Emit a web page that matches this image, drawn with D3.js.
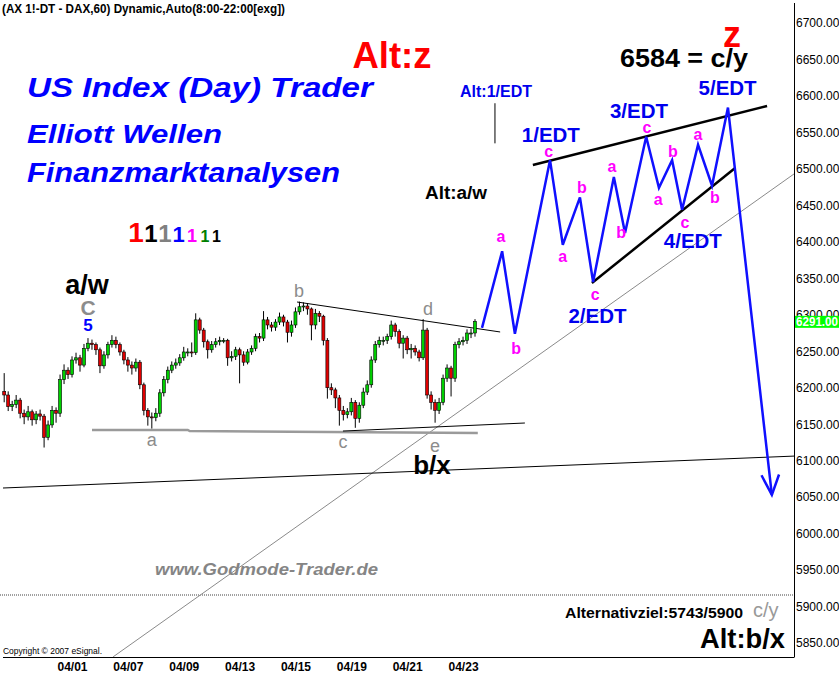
<!DOCTYPE html>
<html><head><meta charset="utf-8">
<script src="https://cdn.jsdelivr.net/npm/d3@7/dist/d3.min.js"></script>
<style>body{margin:0;background:#fff}svg{display:block}text{font-family:"Liberation Sans",Arial,sans-serif}</style>
</head><body><svg id="c" width="839" height="673"></svg>
<script>
// ---------- DATA ----------
const dateLabels = ["04/01","04/07","04/09","04/13","04/15","04/19","04/21","04/23"];
const dateTickIdx = [17,31,45,59,73,87,101,115];
const priceTicks = [5850,5900,5950,6000,6050,6100,6150,6200,6250,6300,6350,6400,6450,6500,6550,6600,6650,6700];
const lastPrice = 6291;
const firstOpen = 6195;
const closes = [6190,6174,6177,6183,6165,6160,6167,6156,6164,6161,
6132,6149,6169,6165,6211,6224,6218,6238,6241,6231,
6254,6261,6259,6252,6230,6245,6259,6265,6259,6249,
6238,6231,6227,6235,6204,6169,6160,6159,6165,6193,
6211,6224,6231,6234,6241,6249,6249,6248,6293,6279,
6263,6252,6259,6263,6265,6265,6241,6243,6252,6245,
6235,6249,6254,6270,6268,6293,6286,6283,6290,6297,
6290,6276,6286,6304,6311,6312,6308,6286,6302,6298,
6265,6200,6197,6186,6169,6163,6167,6180,6158,6176,
6194,6204,6238,6259,6265,6265,6270,6286,6277,6261,
6268,6252,6254,6249,6241,6279,6190,6180,6169,6180,
6213,6227,6213,6259,6263,6265,6275,6275,6291];
const highs = [6220,6195,6182,6190,6186,6170,6175,6170,6168,6170,
6164,6155,6175,6173,6218,6232,6228,6243,6248,6245,
6260,6268,6266,6262,6255,6250,6263,6272,6270,6262,
6252,6242,6236,6240,6238,6207,6172,6166,6172,6198,
6216,6229,6236,6240,6246,6256,6254,6262,6302,6296,
6282,6266,6264,6268,6270,6268,6267,6250,6256,6255,
6250,6253,6258,6274,6275,6305,6297,6290,6294,6303,
6300,6293,6292,6310,6318,6317,6316,6310,6308,6305,
6300,6268,6206,6200,6190,6175,6172,6186,6183,6180,
6200,6210,6243,6264,6270,6270,6274,6292,6289,6280,
6272,6271,6260,6258,6252,6294,6282,6195,6184,6186,
6218,6232,6230,6263,6268,6270,6280,6281,6294];
const lows = [6180,6168,6168,6172,6158,6150,6155,6148,6150,6155,
6118,6128,6145,6152,6160,6205,6212,6214,6233,6222,
6228,6250,6252,6245,6220,6226,6240,6255,6254,6244,
6232,6222,6218,6222,6198,6162,6148,6144,6154,6160,
6188,6206,6220,6226,6230,6237,6243,6242,6245,6274,
6255,6240,6248,6255,6258,6261,6230,6236,6238,6206,
6230,6232,6245,6250,6262,6264,6280,6277,6278,6286,
6284,6262,6270,6282,6300,6305,6300,6265,6280,6290,
6258,6185,6190,6172,6148,6155,6158,6162,6145,6152,
6172,6190,6200,6234,6255,6258,6260,6266,6270,6254,
6240,6246,6240,6244,6236,6238,6185,6170,6152,6164,
6176,6208,6188,6208,6254,6258,6260,6268,6270];
// projected Elliott path (bar index, price)
const wavePath = [[119.75,6282],[124.8,6387],[128.0,6274],[136.8,6512],[140.0,6396],[144.3,6461],[147.6,6345],[152.8,6489],[155.6,6412],[160.9,6544],[164.1,6474],[167.4,6512],[169.9,6444],[173.9,6533],[177.4,6477],[181.4,6584],[192.4,6053]];
const arrowBarbs = [[189.8,6080],[194.2,6081]];
// trend lines (bar index, price)
const grayDiag = [[27.3,5831],[198.2,6494]];
const longLine = [[-0.3,6062.5],[198.2,6106.3]];
const supportGray = [[22,6142],[46,6142],[46.5,6140.5],[118.7,6138]];
const triUpper = [[73.4,6317.5],[124.3,6276.4]];
const triLower = [[84.9,6140.6],[130.5,6151.6]];
const edtUpper = [[132.5,6505.3],[191.2,6586.2]];
const edtLower = [[147.3,6343.5],[183.2,6501.2]];
const altTick = [[123,6590],[123,6535]];
// labels (bar index, price at text baseline)
const magentaLabels = [["a",124.5,6400],["b",128.3,6246],["c",136.5,6516],["a",140,6372],["b",144.8,6467],["c",148.1,6320],["a",152.3,6496],["b",154.6,6405],["c",161.1,6549],["a",163.9,6450],["b",167.6,6516],["c",170.6,6419],["a",173.9,6540],["b",178.1,6453]];
const edtLabels = [["1/EDT",137.0,6537],["3/EDT",159.1,6570],["5/EDT",181.3,6601],["2/EDT",148.7,6289],["4/EDT",172.6,6391]];
const grayLetters = [["a",37,6120],["b",73.9,6324],["c",84.9,6117],["d",106.2,6300],["e",108,6112]];
const legendOnes = [["1","#ff0000",28],["1","#000000",24],["1","#808080",24],["1","#0000ff",22],["1","#ff00ff",18],["1","#008000",16],["1","#000000",16]];
const legendX = [136,151,165,178.5,192,205,216.5];

// ---------- CHART ----------
const svg = d3.select("#c");
const x = d3.scaleLinear().domain([0,198]).range([4.2,794.2]);
const y = d3.scaleLinear().domain([5850,6700]).range([643,23]);
const AX = 794.5, BOT = 657;

svg.append("defs").append("clipPath").attr("id","pc").append("rect").attr("x",0).attr("y",0).attr("width",AX).attr("height",BOT);
const plot = svg.append("g").attr("clip-path","url(#pc)");
const ln = d3.line().x(d=>x(d[0])).y(d=>y(d[1]));

// lower separator
svg.append("line").attr("x1",0).attr("x2",AX).attr("y1",595).attr("y2",595).attr("stroke","#a0a0a0").attr("stroke-width",2).attr("stroke-dasharray","1,1");

plot.append("path").attr("d",ln(grayDiag)).attr("stroke","#8a8a8a").attr("stroke-width",1).attr("fill","none");
plot.append("path").attr("d",ln(longLine)).attr("stroke","#000").attr("stroke-width",1).attr("fill","none");
plot.append("path").attr("d",ln(supportGray)).attr("stroke","#9a9a9a").attr("stroke-width",2.5).attr("fill","none");
plot.append("path").attr("d",ln(triUpper)).attr("stroke","#000").attr("stroke-width",1).attr("fill","none");
plot.append("path").attr("d",ln(triLower)).attr("stroke","#000").attr("stroke-width",1).attr("fill","none");

// candles
const candles = closes.map((c,i)=>({i, o: i===0?firstOpen:closes[i-1], c, h: highs[i], l: lows[i]}));
const cg = plot.append("g");
cg.selectAll("line.w").data(candles).join("line").attr("class","w")
  .attr("x1",d=>x(d.i)).attr("x2",d=>x(d.i)).attr("y1",d=>y(d.h)).attr("y2",d=>y(d.l))
  .attr("stroke","#000").attr("stroke-width",1);
cg.selectAll("rect").data(candles).join("rect")
  .attr("x",d=>x(d.i)-1.5).attr("width",3)
  .attr("y",d=>y(Math.max(d.o,d.c))).attr("height",d=>Math.max(1,Math.abs(y(d.o)-y(d.c))))
  .attr("fill",d=>d.c>=d.o?"#00d000":"#e00000").attr("stroke","#000").attr("stroke-width",0.6);

// EDT lines and wave
plot.append("path").attr("d",ln(edtUpper)).attr("stroke","#000").attr("stroke-width",2.5).attr("fill","none");
plot.append("path").attr("d",ln(edtLower)).attr("stroke","#000").attr("stroke-width",2.5).attr("fill","none");
plot.append("path").attr("d",ln(altTick)).attr("stroke","#000").attr("stroke-width",1).attr("fill","none");
plot.append("path").attr("d",ln(wavePath)).attr("stroke","#1010ff").attr("stroke-width",2.5).attr("fill","none").attr("stroke-linejoin","miter");
const tip = wavePath[wavePath.length-1];
plot.append("path").attr("d",ln([arrowBarbs[0],tip,arrowBarbs[1]])).attr("stroke","#1010ff").attr("stroke-width",2.5).attr("fill","none");

// axes lines
svg.append("line").attr("x1",AX).attr("x2",AX).attr("y1",3).attr("y2",BOT).attr("stroke","#000");
svg.append("line").attr("x1",3).attr("x2",AX).attr("y1",BOT+0.5).attr("y2",BOT+0.5).attr("stroke","#000");

const ya = svg.append("g").attr("transform",`translate(${AX},0)`)
  .call(d3.axisRight(y).tickValues(priceTicks).tickFormat(d3.format(".2f")).tickSize(0).tickPadding(1.5));
ya.select(".domain").remove();
ya.selectAll("text").attr("font-size",12).attr("font-family","Liberation Sans, Arial, sans-serif").attr("fill","#000");
// last price box
svg.append("rect").attr("x",AX+0.5).attr("y",y(lastPrice)-5.5).attr("width",50).attr("height",12).attr("fill","#00ff00");
svg.append("text").attr("x",AX+1.5).attr("y",y(lastPrice)+5).attr("font-size",12).attr("font-weight","bold").attr("fill","#fff")
  .attr("textLength",42).attr("lengthAdjust","spacingAndGlyphs").text(d3.format(".2f")(lastPrice));

const xa = svg.append("g").attr("transform",`translate(0,${BOT})`)
  .call(d3.axisBottom(x).tickValues(dateTickIdx).tickFormat((d,i)=>dateLabels[i]).tickSize(0).tickPadding(5));
xa.select(".domain").remove();
xa.selectAll("text").attr("font-size",12).attr("font-weight","bold").attr("font-family","Liberation Sans, Arial, sans-serif").attr("fill","#000");

// texts
function T(txt,px,py,o){
  const t = svg.append("text").attr("x",px).attr("y",py).text(txt)
    .attr("font-size",o.size||12).attr("font-weight",o.weight||"bold").attr("fill",o.fill||"#000")
    .attr("text-anchor",o.anchor||"start");
  if(o.italic) t.attr("font-style","italic");
  if(o.len) t.attr("textLength",o.len).attr("lengthAdjust","spacingAndGlyphs");
  return t;
}
T("(AX 1!-DT - DAX,60) Dynamic,Auto(8:00-22:00[exg])",2,13,{size:12,len:283});
T("Alt:z",392,68,{size:36,fill:"#ff0000",anchor:"middle",len:79});
T("US Index (Day) Trader",27,97,{size:28,italic:true,fill:"#0000ff",len:346});
T("Elliott Wellen",27,143,{size:26,italic:true,fill:"#0000ff",len:195});
T("Finanzmarktanalysen",27,182,{size:28,italic:true,fill:"#0000ff",len:313});
legendOnes.forEach((d,i)=>T(d[0],legendX[i],242,{size:d[2],fill:d[1],anchor:"middle"}));
T("a/w",87,294,{size:27,anchor:"middle"});
T("C",88,315,{size:21,fill:"#8c8c8c",anchor:"middle"});
T("5",88,331,{size:17,fill:"#0000ff",anchor:"middle"});
grayLetters.forEach(d=>T(d[0],x(d[1]),y(d[2]),{size:18,weight:"normal",fill:"#8c8c8c",anchor:"middle"}));
T("b/x",432,474,{size:26,anchor:"middle"});
T("Alt:a/w",456,199,{size:18,anchor:"middle",len:62});
T("Alt:1/EDT",496,97,{size:16,fill:"#0000ee",anchor:"middle",len:72});
edtLabels.forEach(d=>T(d[0],x(d[1]),y(d[2]),{size:20,fill:"#0000ee",anchor:"middle",len:58}));
magentaLabels.forEach(d=>T(d[0],x(d[1]),y(d[2]),{size:16,fill:"#ff00ff",anchor:"middle"}));
T("6584 = c/y",620,67,{size:26,len:128});
T("z",732,47,{size:36,fill:"#ff0000",anchor:"middle"});
T("www.Godmode-Trader.de",155,575,{size:17,italic:true,fill:"#858585",len:223});
T("Alternativziel:5743/5900",565,618,{size:15,len:178});
T("c/y",753,617,{size:20,weight:"normal",fill:"#999"});
T("Alt:b/x",785,648,{size:28,anchor:"end",len:85});
T("Copyright © 2007 eSignal.",3,654,{size:9,weight:"normal",len:99});
</script></body></html>
